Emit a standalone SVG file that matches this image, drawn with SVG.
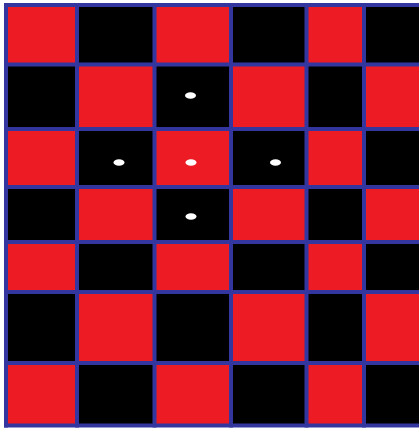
<svg xmlns="http://www.w3.org/2000/svg" width="419" height="432" viewBox="0 0 419 432">
<style>
.r{fill:#ED1C24}
.k{fill:#000}
.g{stroke:#3436A0;stroke-width:4;fill:none}
.d{fill:#fff}
</style>
<rect width="419" height="432" fill="#fff"/>
<g id="cells">
<!-- row 1 -->
<rect class="r" x="6" y="5" width="71" height="59.5"/>
<rect class="k" x="77" y="5" width="77.5" height="59.5"/>
<rect class="r" x="154.5" y="5" width="76.5" height="59.5"/>
<rect class="k" x="231" y="5" width="75.5" height="59.5"/>
<rect class="r" x="306.5" y="5" width="57.5" height="59.5"/>
<rect class="k" x="364" y="5" width="55" height="59.5"/>
<!-- row 2 -->
<rect class="k" x="6" y="64.5" width="71" height="64.5"/>
<rect class="r" x="77" y="64.5" width="77.5" height="64.5"/>
<rect class="k" x="154.5" y="64.5" width="76.5" height="64.5"/>
<rect class="r" x="231" y="64.5" width="75.5" height="64.5"/>
<rect class="k" x="306.5" y="64.5" width="57.5" height="64.5"/>
<rect class="r" x="364" y="64.5" width="55" height="64.5"/>
<!-- row 3 -->
<rect class="r" x="6" y="129" width="71" height="58"/>
<rect class="k" x="77" y="129" width="77.5" height="58"/>
<rect class="r" x="154.5" y="129" width="76.5" height="58"/>
<rect class="k" x="231" y="129" width="75.5" height="58"/>
<rect class="r" x="306.5" y="129" width="57.5" height="58"/>
<rect class="k" x="364" y="129" width="55" height="58"/>
<!-- row 4 -->
<rect class="k" x="6" y="187" width="71" height="55"/>
<rect class="r" x="77" y="187" width="77.5" height="55"/>
<rect class="k" x="154.5" y="187" width="76.5" height="55"/>
<rect class="r" x="231" y="187" width="75.5" height="55"/>
<rect class="k" x="306.5" y="187" width="57.5" height="55"/>
<rect class="r" x="364" y="187" width="55" height="55"/>
<!-- row 5 -->
<rect class="r" x="6" y="242" width="71" height="50"/>
<rect class="k" x="77" y="242" width="77.5" height="50"/>
<rect class="r" x="154.5" y="242" width="76.5" height="50"/>
<rect class="k" x="231" y="242" width="75.5" height="50"/>
<rect class="r" x="306.5" y="242" width="57.5" height="50"/>
<rect class="k" x="364" y="242" width="55" height="50"/>
<!-- row 6 -->
<rect class="k" x="6" y="292" width="71" height="71"/>
<rect class="r" x="77" y="292" width="77.5" height="71"/>
<rect class="k" x="154.5" y="292" width="76.5" height="71"/>
<rect class="r" x="231" y="292" width="75.5" height="71"/>
<rect class="k" x="306.5" y="292" width="57.5" height="71"/>
<rect class="r" x="364" y="292" width="55" height="71"/>
<!-- row 7 -->
<rect class="r" x="6" y="363" width="71" height="62.5"/>
<rect class="k" x="77" y="363" width="77.5" height="62.5"/>
<rect class="r" x="154.5" y="363" width="76.5" height="62.5"/>
<rect class="k" x="231" y="363" width="75.5" height="62.5"/>
<rect class="r" x="306.5" y="363" width="57.5" height="62.5"/>
<rect class="k" x="364" y="363" width="55" height="62.5"/>
</g>
<g id="grid" class="g">
<path d="M4 5H419M4 64.5H419M4 129H419M4 187H419M4 242H419M4 292H419M4 363H419M4 425.5H419"/>
<path d="M6 3V427.5M77 3V427.5M154.5 3V427.5M231 3V427.5M306.5 3V427.5M364 3V427.5"/>
</g>
<g id="dots" class="d">
<ellipse cx="190.5" cy="95.5" rx="5.5" ry="3.2"/>
<ellipse cx="119" cy="162.5" rx="5.5" ry="3.2"/>
<ellipse cx="191" cy="162.5" rx="5.5" ry="3.2"/>
<ellipse cx="275.5" cy="162.5" rx="5.5" ry="3.2"/>
<ellipse cx="191" cy="216.5" rx="5.5" ry="3.2"/>
</g>
</svg>
